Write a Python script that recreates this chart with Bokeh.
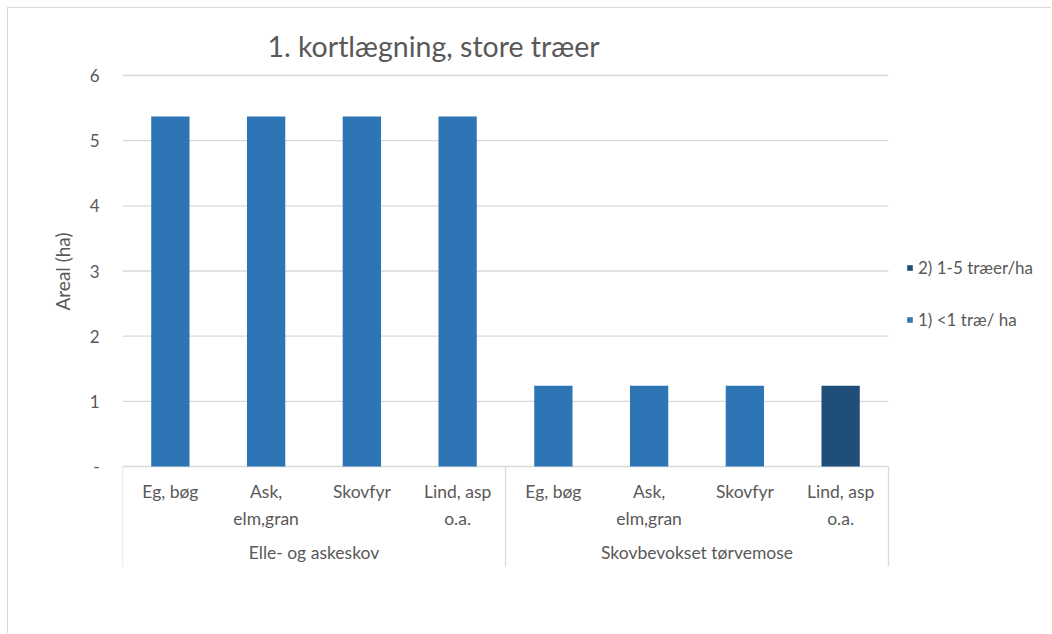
from bokeh.plotting import figure
from bokeh.models import ColumnDataSource, FixedTicker, Range1d, Legend, LegendItem, Title
from bokeh.embed import file_html
from bokeh.resources import INLINE
from bokeh.core.properties import value

# ---------------- data ----------------
title_text = "1. kortlægning, store træer"
y_label = "Areal (ha)"
groups = ["Elle- og askeskov", "Skovbevokset tørvemose"]
species = ["Eg, bøg", "Ask,\nelm,gran", "Skovfyr", "Lind, asp\no.a."]
series_names = ["1) <1 træ/ ha", "2) 1-5 træer/ha"]
series1 = [5.37, 5.37, 5.37, 5.37, 1.24, 1.24, 1.24, 0.0]
series2 = [0.0, 0.0, 0.0, 0.0, 0.0, 0.0, 0.0, 1.24]
y_ticks = [0, 1, 2, 3, 4, 5, 6]
y_tick_labels = ["-", "1", "2", "3", "4", "5", "6"]

# ---------------- layout / style ----------------
FONT = "Lato"
TXT = "#595959"
GRID = "#d9d9d9"
C1 = "#2E75B6"
C2 = "#1F4E79"
W, H = 1044, 626
FRAME_L = 114                    # canvas px of category start
PLOT_W = 766                     # px width of the category area
ZERO_Y, TOP_Y = 458, 67          # canvas px of y=0 and y=6
n_cat = len(groups) * len(species)
ppu = (ZERO_Y - TOP_Y) / (y_ticks[-1] - y_ticks[0])
ppx = PLOT_W / n_cat
y_start = -(H - ZERO_Y) / ppu
y_end = ZERO_Y / ppu
x_end = (W - FRAME_L) / ppx

xs = [i + 0.5 for i in range(n_cat)]
cat_labels = [s for g in groups for s in species]
top1 = [a for a in series1]
top2 = [a + b for a, b in zip(series1, series2)]

p = figure(width=W, height=H, output_backend="svg", toolbar_location=None,
           x_range=Range1d(0, x_end), y_range=Range1d(y_start, y_end),
           x_axis_location=None, title=None,
           min_border_left=FRAME_L, min_border_right=0,
           min_border_top=0, min_border_bottom=0)
p.outline_line_color = None
p.background_fill_color = "white"
p.border_fill_color = "white"
p.stylesheets = [":host { border-left: 1px solid #d9d9d9; border-top: 1px solid #d9d9d9; "
                 "margin-left: 7px; margin-top: 7px; }"]
p.xgrid.visible = False
p.ygrid.visible = False

# horizontal gridlines over the category area
p.segment(x0=[0] * len(y_ticks), y0=y_ticks, x1=[n_cat] * len(y_ticks), y1=y_ticks,
          line_color=GRID, line_width=1.3)

# y axis
ya = p.yaxis[0]
ya.ticker = FixedTicker(ticks=y_ticks)
ya.major_label_overrides = {t: l for t, l in zip(y_ticks, y_tick_labels)}
ya.axis_line_color = None
ya.major_tick_line_color = None
ya.minor_tick_line_color = None
ya.major_tick_out = 0
ya.major_tick_in = 0
ya.major_label_standoff = 23
ya.major_label_text_font = FONT
ya.major_label_text_font_size = "17px"
ya.major_label_text_color = TXT

# y axis title (left panel)
label_half = 38.5
p.add_layout(Title(text=y_label, align="left", vertical_align="middle",
                   offset=(H - ZERO_Y) + (y_ticks[-1] - y_ticks[0]) / 2 * ppu - label_half - 1,
                   standoff=24, text_font=FONT, text_font_size="19px",
                   text_font_style="normal", text_color=TXT), "left")

# bars (stacked)
src = ColumnDataSource(dict(x=xs, b1=[0.0] * n_cat, t1=top1, t2=top2, label=cat_labels))
r1 = p.vbar(x="x", bottom="b1", top="t1", width=0.4, source=src,
            fill_color=C1, line_color=None)
r2 = p.vbar(x="x", bottom="t1", top="t2", width=0.4, source=src,
            fill_color=C2, line_color=None)

# category separators (group boundaries)
bounds = [i * len(species) for i in range(len(groups) + 1)]
sep_bottom = -(566 - 466) / ppu
p.segment(x0=bounds, y0=[0] * len(bounds), x1=bounds, y1=[sep_bottom] * len(bounds),
          line_color=GRID, line_width=1.3)

# category labels
p.text(x="x", y=0, text="label", source=src, text_align="center", text_baseline="top",
       y_offset=14, text_font=value(FONT), text_font_size="17.5px", text_color=TXT,
       text_line_height=1.3)

# group labels
gx = [(bounds[i] + bounds[i + 1]) / 2 for i in range(len(groups))]
p.text(x=gx, y=[0] * len(gx), text=groups, text_align="center", text_baseline="middle",
       y_offset=86, text_font=value(FONT), text_font_size="17.5px", text_color=TXT)

# title
p.text(x=[(433 - 122) / ppx], y=[(466 - 45) / ppu], text=[title_text],
       text_align="center", text_baseline="middle", text_font=value(FONT),
       text_font_size="28.5px", text_color=TXT)

# legend (inside the frame, right of the category area)
legend = Legend(items=[LegendItem(label=series_names[1], renderers=[r2]),
                       LegendItem(label=series_names[0], renderers=[r1])],
                location=(784, 304), orientation="vertical",
                glyph_width=7, glyph_height=7, label_height=20, spacing=31,
                label_standoff=5, padding=0, margin=0,
                border_line_color=None, background_fill_alpha=0,
                label_text_font=FONT, label_text_font_size="17px",
                label_text_color=TXT)
p.add_layout(legend, "center")

open("out.html", "w").write(file_html(p, INLINE))
